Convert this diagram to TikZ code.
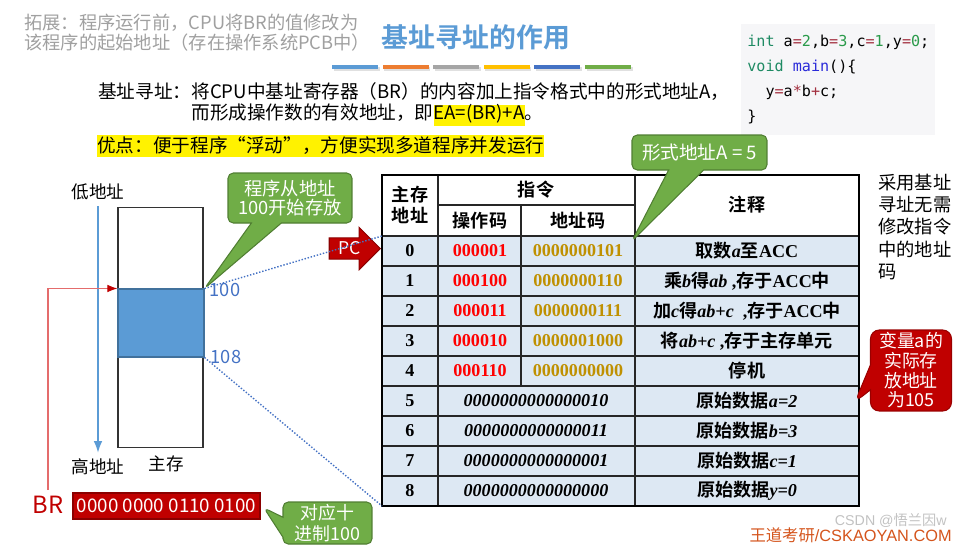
\documentclass[tikz,border=0pt]{standalone}
\usepackage{fontspec}
\usepackage{xcolor}
\usepackage{tikz}
\usetikzlibrary{arrows.meta,shapes.callouts,shapes.arrows}
\setmainfont{Noto Sans CJK SC}[BoldFont={Noto Sans CJK SC Bold}]
\newfontfamily\tms{Liberation Serif}
\newfontfamily\mono{DejaVu Sans Mono}
\newfontfamily\ars{Liberation Sans}
\definecolor{titleblue}{HTML}{5B9BD5}
\definecolor{notegrey}{HTML}{A0A0A0}
\definecolor{barblue}{HTML}{5B9BD5}
\definecolor{barorange}{HTML}{ED7D31}
\definecolor{bargrey}{HTML}{A5A5A5}
\definecolor{baryellow}{HTML}{FFC000}
\definecolor{bardblue}{HTML}{4472C4}
\definecolor{bargreen}{HTML}{70AD47}
\definecolor{codebg}{HTML}{F6F6F8}
\definecolor{codekw}{HTML}{1E8A63}
\definecolor{codenum}{HTML}{2A9A4A}
\definecolor{codeop}{HTML}{A33040}
\definecolor{codefn}{HTML}{2B2BD9}
\definecolor{callgreen}{HTML}{70AD47}
\definecolor{callgreenedge}{HTML}{507E32}
\definecolor{regred}{HTML}{C00000}
\definecolor{regrededge}{HTML}{8B0000}
\definecolor{rowblue}{HTML}{DDE8F3}
\definecolor{opred}{HTML}{FF0000}
\definecolor{adgold}{HTML}{BF9000}
\definecolor{addrblue}{HTML}{4472C4}
\definecolor{blockedge}{HTML}{41719C}
\definecolor{brline}{HTML}{E46C6C}
\definecolor{markorange}{HTML}{D4541C}
\newcommand{\tb}[1]{{\tms\bfseries #1}}
\newcommand{\ti}[1]{{\tms\bfseries\itshape #1}}
\newcommand{\kw}[1]{\textcolor{codekw}{#1}}
\newcommand{\nm}[1]{\textcolor{codenum}{#1}}
\newcommand{\opc}[1]{\textcolor{codeop}{#1}}
\newcommand{\fsz}[2]{\fontsize{#1}{#2}\selectfont}
\setlength{\fboxsep}{0pt}

\begin{document}
\begin{tikzpicture}[x=0.02cm, y=-0.02cm, >=Latex,
  greencall/.style={rectangle callout, fill=callgreen, draw=callgreenedge, line width=0.6pt,
    rounded corners=3pt, text=white, align=center, inner sep=1pt},
  gridline/.style={black!85, line width=0.6pt},
  hd/.style={font=\bfseries\fsz{10.3}{11.9}, align=center, inner sep=0pt},
  cell/.style={font=\bfseries\fsz{10.3}{12}, inner sep=0pt}]
  \useasboundingbox (0,0) rectangle (964,545);
  % heading
  \node[anchor=west, align=left, text=notegrey, font=\fsz{10.4}{11.3}, inner sep=0] (ext) at (24,33)
    {拓展：程序运行前，CPU将BR的值修改为\\该程序的起始地址（存在操作系统PCB中）};
  \node[text=titleblue, font=\bfseries\fsz{15.3}{18}, inner sep=0] (title) at (476,37) {基址寻址的作用};
  \foreach \c [count=\i from 0] in {barblue,barorange,bargrey,baryellow,bardblue,bargreen}{
    \fill[black!12] (333.5+50.6*\i,66.5) rectangle ++(46,4);
    \fill[\c] (332+50.6*\i,65) rectangle ++(46,4);
  }
  % code sample
  \fill[codebg] (741,24) rectangle (935,135);
  \node[anchor=west, align=left, font=\mono\fsz{8.6}{14.2}, inner sep=0] (code) at (747,79.5)
    {\kw{int} a\opc{=}\nm{2},b\opc{=}\nm{3},c\opc{=}\nm{1},y\opc{=}\nm{0};\\
     \kw{void} \textcolor{codefn}{main}()\{\\
     \hspace*{1.204em}y\opc{=}a\opc{*}b\opc{+}c;\\
     \}};
  % definition
  \node[anchor=west, align=left, font=\fsz{10.6}{11.9}, inner sep=0] (def) at (98,104.5)
    {基址寻址：将CPU中基址寄存器（BR）的内容加上指令格式中的形式地址A，\\
     \hspace*{5em}而形成操作数的有效地址，即\colorbox{yellow}{\strut EA=(BR)+A}。};
  \node[anchor=west, fill=yellow, inner xsep=0pt, inner ysep=1pt, font=\fsz{10.6}{12}] (adv) at (97,146)
    {优点：便于程序“浮动”，方便实现多道程序并发运行};
  \node[anchor=west, align=left, font=\fsz{10.4}{12.8}, inner sep=0] (noaddr) at (878,227)
    {采用基址\\寻址无需\\修改指令\\中的地址\\码};
  % main memory
  \node[draw=black!80, line width=0.6pt, minimum width=1.7cm, minimum height=4.8cm, inner sep=0] (mem) at (160.5,327.5) {};
  \node[fill=barblue, draw=blockedge, line width=0.6pt, minimum width=1.72cm, minimum height=1.36cm, inner sep=0] (blk) at (161,323) {};
  \node[font=\fsz{10}{12}] (low) at (98,192) {低地址};
  \node[font=\fsz{10}{12}] (high) at (98,467) {高地址};
  \node[font=\fsz{10}{12}] (mainmem) at (166,464) {主存};
  \draw[->, barblue, line width=0.8pt] (low) -- (high);
  \node[font=\fsz{10.4}{12}, text=addrblue] (a100) at (225,290) {100};
  \node[font=\fsz{10.4}{12}, text=addrblue] (a108) at (226,357) {108};
  % base register
  \node[text=regred, font=\fsz{13.5}{16}] (brlab) at (48,505) {BR};
  \node[fill=regred, draw=regrededge, line width=0.6pt, text=white, minimum width=3.74cm, minimum height=0.52cm,
    inner sep=0, font=\fsz{10.7}{12}] (brreg) at (166.5,506) {0000 0000 0110 0100};
  \draw[-{Latex[color=regred]}, brline, line width=0.6pt] (brlab.north) |- (blk.north west);
  % program table
  \coordinate (t0) at (382,236);
  \coordinate (t8) at (382,506);
  \fill[rowblue] (382,236) rectangle (859,506);
  \foreach \y in {266,296,...,476} \draw[gridline] (382,\y) -- (859,\y);
  \draw[gridline] (382,236) -- (859,236);
  \draw[gridline] (438,205) -- (635,205);
  \draw[gridline] (438,175) -- (438,506) (635,175) -- (635,506) (521,205) -- (521,386);
  \draw[line width=1.4pt] (382,175) rectangle (859,506);
  \node[hd] (hdaddr) at (410,205) {主存\\地址};
  \node[hd] (hdinst) at (536,190) {指令};
  \node[hd] (hdop) at (480,221) {操作码};
  \node[hd] (hdad) at (578,221) {地址码};
  \node[hd] (hdnote) at (747,205) {注释};
  \foreach \opv/\adr/\cmt [count=\i from 0] in {000001/0000000101/{取数\ti{a}至\tb{ACC}},
      000100/0000000110/{乘\ti{b}得\ti{ab}\tb{ ,}存于\tb{ACC}中},
      000011/0000000111/{加\ti{c}得\ti{ab+c}\tb{\ \ ,}存于\tb{ACC}中},
      000010/0000001000/{将\ti{ab+c}\tb{ ,}存于主存单元},
      000110/0000000000/{停机}}{
    \node[cell] (n\i) at (410,251+30*\i) {\tb{\i}};
    \node[cell, text=opred] (op\i) at (480,251+30*\i) {\tb{\opv}};
    \node[cell, text=adgold] (ad\i) at (578,251+30*\i) {\tb{\adr}};
    \node[cell] (nt\i) at (747,251+30*\i) {\cmt};
  }
  \foreach \val/\var [count=\i from 5] in {0000000000000010/a=2, 0000000000000011/b=3,
      0000000000000001/c=1, 0000000000000000/y=0}{
    \node[cell] (n\i) at (410,251+30*\i) {\tb{\i}};
    \node[cell] (val\i) at (536,251+30*\i) {\ti{\val}};
    \node[cell] (nt\i) at (747,251+30*\i) {原始数据\ti{\var}};
  }
  % PC and mapping
  \node[single arrow, fill=regred, draw=regrededge, line width=0.6pt, text=white, font=\fsz{10}{12},
    inner xsep=2pt, inner ysep=2pt, minimum height=1.02cm, single arrow head extend=0.21cm, anchor=tip] (pc) at (381,248.5) {PC};
  \draw[densely dotted, addrblue, line width=0.8pt] (blk.north east) -- (t0);
  \draw[densely dotted, addrblue, line width=0.8pt] (blk.south east) -- (t8);
  % callouts
  \node[greencall, callout absolute pointer={(blk.north east)}, callout pointer width=0.6cm,
    minimum width=2.48cm, minimum height=1cm, font=\fsz{10.4}{11.3}] (startcall) at (290,198) {程序从地址\\100开始存放};
  \node[greencall, callout absolute pointer={(632,241)}, callout pointer width=0.7cm,
    minimum width=2.7cm, minimum height=0.7cm, font=\fsz{10.6}{12}] (formcall) at (699.5,152.5) {形式地址A = 5};
  \node[greencall, callout absolute pointer={(264,508)}, callout pointer width=0.4cm,
    minimum width=1.78cm, minimum height=0.84cm, font=\fsz{10.2}{11.9}] (deccall) at (327.5,523) {对应十\\进制100};
  \node[rectangle callout, fill=regred, draw=regred!80!black, line width=0.6pt, rounded corners=5pt, text=white, align=center,
    callout absolute pointer={(855,402)}, callout pointer width=0.5cm, minimum width=1.62cm, minimum height=1.62cm,
    inner sep=0, font=\fsz{10.2}{11.2}] (varcall) at (911,370.5) {变量a的\\实际存\\放地址\\为105};
  % footer
  \node[text=markorange, font=\fsz{9.3}{11}, inner sep=0, anchor=east] (brand) at (952,535.5) {王道考研{\ars /CSKAOYAN.COM}};
  \node[text=black!30, opacity=0.8, font=\fsz{8.1}{10}, inner sep=0, anchor=east] (csdn) at (947,520.5) {{\ars CSDN @}悟兰因{\ars w}};
\end{tikzpicture}
\end{document}
